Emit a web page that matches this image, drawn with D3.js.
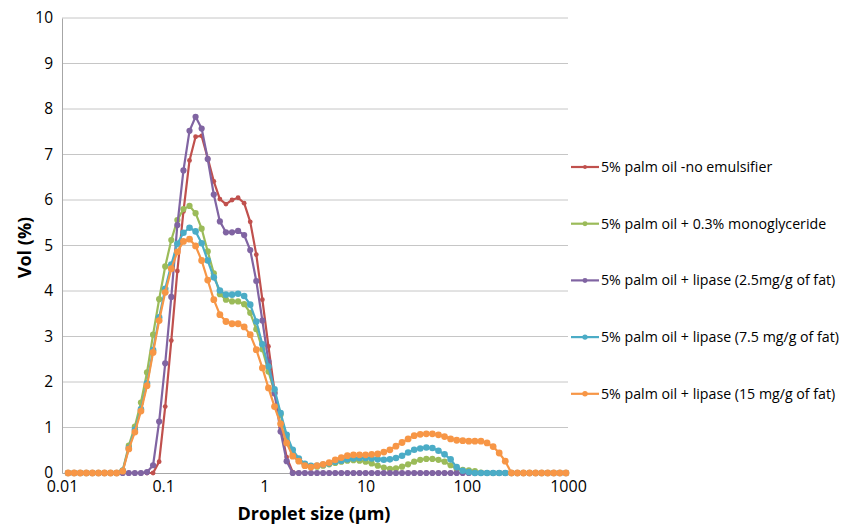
<!DOCTYPE html>
<html lang="en">
<head>
  <meta charset="utf-8" />
  <title>Droplet size distribution</title>
  <script src="https://cdn.jsdelivr.net/npm/d3@7"></script>
  <style>
    body { margin: 0; background: #fff; }
    text { font-family: "Open Sans", "Liberation Sans", sans-serif; fill: #000; }
  </style>
</head>
<body>
  <script>
    // size classes: 10^(-2 + 0.06k), k = 1..83
    var sizeClass = d3.range(1, 84).map(function (k) { return Math.pow(10, -2 + 0.06 * k); });

    var seriesNames = [
      "5% palm oil -no emulsifier",
      "5% palm oil + 0.3% monoglyceride",
      "5% palm oil + lipase (2.5mg/g of fat)",
      "5% palm oil + lipase (7.5 mg/g of fat)",
      "5% palm oil + lipase (15 mg/g of fat)"
    ];
    var seriesColors = ["#c0504d", "#9bbb59", "#8064a2", "#4bacc6", "#f79646"];
    var markerSize = [2.4, 3.1, 3.1, 3.3, 3.4];

    var z9 = [0, 0, 0, 0, 0, 0, 0, 0, 0];
    var noEmulsifier = z9.concat([0, 0, 0, 0, 0, 0, 0.25, 1.46, 2.91, 4.44,
      5.75, 6.87, 7.39, 7.41, 6.92, 6.41, 6.02, 5.91, 6.0, 6.05,
      5.93, 5.52, 4.8, 3.81, 2.78, 1.8, 1.0, 0.35, 0.02, 0,
      0, 0, 0, 0, 0, 0, 0, 0, 0, 0,
      0, 0, 0, 0, 0, 0, 0, 0, 0, 0,
      0, 0, 0, 0, 0, 0, 0, 0, 0, 0,
      0, 0, 0, 0, 0, 0, 0, 0, 0, 0,
      0, 0, 0, 0]);
    var monoglyceride = z9.concat([0.06, 0.6, 1.02, 1.55, 2.21, 3.04, 3.82, 4.54, 5.12, 5.56,
      5.8, 5.87, 5.71, 5.37, 4.87, 4.39, 3.93, 3.81, 3.77, 3.77,
      3.71, 3.52, 3.16, 2.72, 2.23, 1.78, 1.28, 0.78, 0.42, 0.27,
      0.16, 0.13, 0.14, 0.16, 0.19, 0.22, 0.25, 0.27, 0.28, 0.27,
      0.25, 0.21, 0.16, 0.12, 0.09, 0.1, 0.14, 0.19, 0.25, 0.29,
      0.31, 0.31, 0.29, 0.25, 0.17, 0.09, 0.07, 0.06, 0.04, 0.01,
      0, 0, 0, 0, 0, 0, 0, 0, 0, 0,
      0, 0, 0, 0]);
    var lipase25 = z9.concat([0, 0, 0, 0, 0.02, 0.17, 1.13, 2.41, 3.87, 5.45,
      6.65, 7.52, 7.83, 7.57, 6.9, 6.12, 5.53, 5.29, 5.29, 5.32,
      5.23, 4.9, 4.22, 3.35, 2.45, 1.75, 0.91, 0.26, 0, 0,
      0, 0, 0, 0, 0, 0, 0, 0, 0, 0,
      0, 0, 0, 0, 0, 0, 0, 0, 0, 0,
      0, 0, 0, 0, 0, 0, 0, 0, 0, 0,
      0, 0, 0, 0, 0, 0, 0, 0, 0, 0,
      0, 0, 0, 0]);
    var lipase75 = z9.concat([0.05, 0.55, 0.95, 1.4, 1.97, 2.7, 3.42, 4.05, 4.58, 5.04,
      5.28, 5.39, 5.31, 5.05, 4.67, 4.3, 4.01, 3.92, 3.92, 3.94,
      3.89, 3.7, 3.33, 2.83, 2.34, 1.84, 1.32, 0.84, 0.51, 0.32,
      0.2, 0.16, 0.16, 0.18, 0.21, 0.25, 0.27, 0.3, 0.32, 0.33,
      0.33, 0.32, 0.3, 0.29, 0.3, 0.33, 0.38, 0.45, 0.51, 0.54,
      0.56, 0.55, 0.49, 0.41, 0.3, 0.13, 0.05, 0.02, 0, 0,
      0, 0, 0, 0, 0, 0, 0, 0, 0, 0,
      0, 0, 0, 0]);
    var lipase15 = z9.concat([0.04, 0.53, 0.9, 1.36, 1.92, 2.65, 3.35, 3.97, 4.49, 4.86,
      5.09, 5.14, 4.99, 4.67, 4.24, 3.81, 3.48, 3.33, 3.28, 3.28,
      3.21, 3.04, 2.71, 2.31, 1.87, 1.46, 1.08, 0.66, 0.37, 0.26,
      0.16, 0.13, 0.16, 0.19, 0.23, 0.29, 0.34, 0.38, 0.4, 0.4,
      0.4, 0.41, 0.42, 0.46, 0.51, 0.59, 0.67, 0.75, 0.82, 0.85,
      0.86, 0.86, 0.84, 0.8, 0.75, 0.72, 0.71, 0.7, 0.7, 0.7,
      0.66, 0.58, 0.44, 0.26, 0, 0, 0, 0, 0, 0,
      0, 0, 0, 0]);
    var seriesValues = [noEmulsifier, monoglyceride, lipase25, lipase75, lipase15];

    var xTicks = [0.01, 0.1, 1, 10, 100, 1000];
    var yTicks = [0, 1, 2, 3, 4, 5, 6, 7, 8, 9, 10];

    var width = 858, height = 525;
    var plotLeft = 62, plotRight = 568, plotTop = 18, plotBottom = 473;

    var svg = d3.select("body").append("svg")
      .attr("width", width)
      .attr("height", height);

    var x = d3.scaleLog().domain([0.01, 1000]).range([plotLeft, plotRight]);
    var y = d3.scaleLinear().domain([0, 10]).range([plotBottom, plotTop]);

    // grid lines
    svg.append("g")
      .selectAll("line")
      .data(yTicks.filter(function (d) { return d > 0; }))
      .enter()
      .append("line")
      .attr("x1", plotLeft)
      .attr("x2", plotRight)
      .attr("y1", function (d) { return y(d); })
      .attr("y2", function (d) { return y(d); })
      .attr("stroke", "#c6c6c6")
      .attr("stroke-width", 1);

    // axes
    var yAxis = svg.append("g")
      .attr("transform", "translate(" + plotLeft + ",0)")
      .call(d3.axisLeft(y).tickValues(yTicks).tickSize(0).tickPadding(9));
    yAxis.select(".domain").attr("stroke", "#a6a6a6");
    yAxis.selectAll("text").attr("font-size", 15.5);

    var xAxis = svg.append("g")
      .attr("transform", "translate(0," + plotBottom + ")")
      .call(d3.axisBottom(x).tickValues(xTicks).tickFormat(function (d) { return String(d); }).tickSize(0).tickPadding(8));
    xAxis.select(".domain").attr("stroke", "#a6a6a6");
    xAxis.selectAll("text").attr("font-size", 16);

    // series
    var line = d3.line()
      .x(function (d, i) { return x(sizeClass[i]); })
      .y(function (d) { return y(d); });

    seriesValues.forEach(function (vals, j) {
      svg.append("path")
        .datum(vals)
        .attr("d", line)
        .attr("fill", "none")
        .attr("stroke", seriesColors[j])
        .attr("stroke-width", 2.2)
        .attr("stroke-linejoin", "round");

      svg.append("g")
        .selectAll("circle")
        .data(vals)
        .enter()
        .append("circle")
        .attr("cx", function (d, i) { return x(sizeClass[i]); })
        .attr("cy", function (d) { return y(d); })
        .attr("r", markerSize[j])
        .attr("fill", seriesColors[j]);
    });

    // axis titles
    svg.append("text")
      .attr("text-anchor", "middle")
      .attr("transform", "translate(31," + ((plotTop + plotBottom) / 2 + 2) + ") rotate(-90)")
      .attr("font-size", 18)
      .attr("font-weight", "bold")
      .text("Vol (%)");

    svg.append("text")
      .attr("text-anchor", "middle")
      .attr("x", 314)
      .attr("y", 520)
      .attr("font-size", 18)
      .attr("font-weight", "bold")
      .text("Droplet size (\u00b5m)");

    // legend
    var legend = svg.append("g")
      .selectAll("g")
      .data(seriesNames)
      .enter()
      .append("g")
      .attr("transform", function (d, i) { return "translate(571," + (167 + i * 56.7) + ")"; });

    legend.append("line")
      .attr("x1", 0).attr("x2", 28)
      .attr("stroke", function (d, i) { return seriesColors[i]; })
      .attr("stroke-width", 2.2);

    legend.append("circle")
      .attr("cx", 14)
      .attr("r", function (d, i) { return markerSize[i] * 0.8; })
      .attr("fill", function (d, i) { return seriesColors[i]; });

    legend.append("text")
      .attr("x", 30)
      .attr("y", 5)
      .attr("font-size", 14.2)
      .text(function (d) { return d; });
  </script>
</body>
</html>
